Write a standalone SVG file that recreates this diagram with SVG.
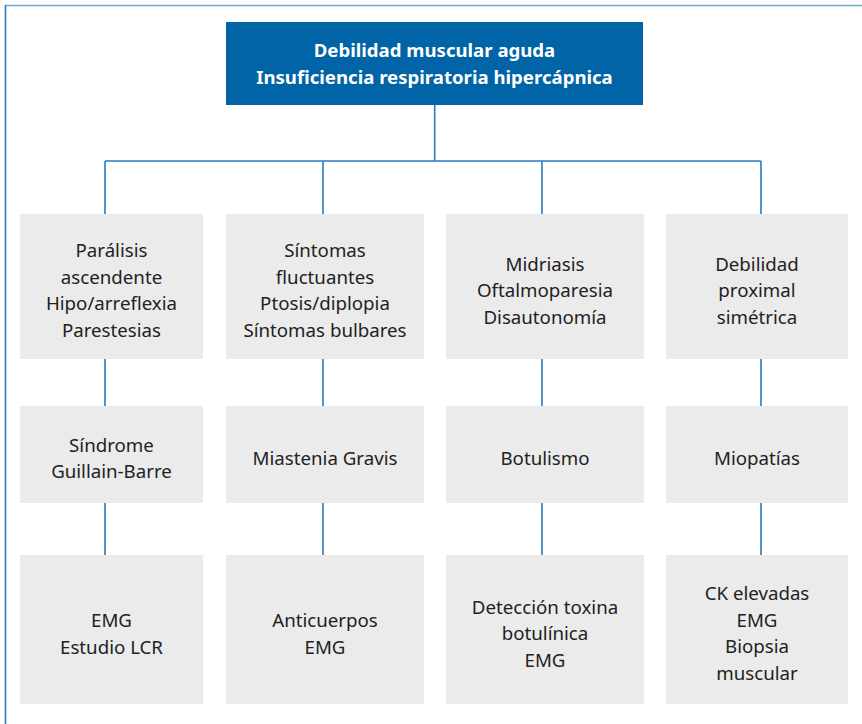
<svg xmlns="http://www.w3.org/2000/svg" width="862" height="724" viewBox="0 0 862 724">
<style>
.box{fill:#ebebeb}
.t{font-family:"Noto Sans","Liberation Sans",sans-serif;font-size:18.7px;fill:#222;text-anchor:middle}
.h{font-family:"Noto Sans","Liberation Sans",sans-serif;font-size:18.6px;font-weight:bold;fill:#fff;text-anchor:middle}
.c{stroke:#2a7bbf;stroke-width:1.6;fill:none}
</style>
<rect width="862" height="724" fill="#fff"/>
<g id="frame">
<line x1="5" y1="5.5" x2="862" y2="5.5" stroke="#7aa8cc" stroke-width="1.6"/>
<line x1="5.5" y1="5" x2="5.5" y2="724" stroke="#2a7bbf" stroke-width="1.6"/>
</g>
<g id="connectors">
<path class="c" d="M434.7 105V161M105 161H761M105 161V214M323 161V214M542 161V214M761 161V214"/>
<path class="c" d="M105 359V406M323 359V406M542 359V406M761 359V406"/>
<path class="c" d="M105 503V555M323 503V555M542 503V555M761 503V555"/>
</g>
<g id="root">
<rect x="226" y="22" width="417" height="83" fill="#0064a7"/>
<text class="h" x="434.5" y="57">Debilidad muscular aguda</text>
<text class="h" x="434.5" y="84">Insuficiencia respiratoria hipercápnica</text>
</g>
<g id="n11"><rect class="box" x="20" y="214" width="183" height="145"/>
<text class="t" x="111.5" y="256.5">Parálisis</text><text class="t" x="111.5" y="283.5">ascendente</text><text class="t" x="111.5" y="309.5">Hipo/arreflexia</text><text class="t" x="111.5" y="336.5">Parestesias</text></g>
<g id="n12"><rect class="box" x="226" y="214" width="198" height="145"/>
<text class="t" x="325" y="256.5">Síntomas</text><text class="t" x="325" y="283.5">fluctuantes</text><text class="t" x="325" y="309.5">Ptosis/diplopia</text><text class="t" x="325" y="336.5">Síntomas bulbares</text></g>
<g id="n13"><rect class="box" x="446" y="214" width="198" height="145"/>
<text class="t" x="545" y="270.5">Midriasis</text><text class="t" x="545" y="296.5">Oftalmoparesia</text><text class="t" x="545" y="323.5">Disautonomía</text></g>
<g id="n14"><rect class="box" x="666" y="214" width="182" height="145"/>
<text class="t" x="757" y="270.5">Debilidad</text><text class="t" x="757" y="296.5">proximal</text><text class="t" x="757" y="323.5">simétrica</text></g>
<g id="n21"><rect class="box" x="20" y="406" width="183" height="97"/>
<text class="t" x="111.5" y="451.5">Síndrome</text><text class="t" x="111.5" y="477.5">Guillain-Barre</text></g>
<g id="n22"><rect class="box" x="226" y="406" width="198" height="97"/>
<text class="t" x="325" y="464.5">Miastenia Gravis</text></g>
<g id="n23"><rect class="box" x="446" y="406" width="198" height="97"/>
<text class="t" x="545" y="464.5">Botulismo</text></g>
<g id="n24"><rect class="box" x="666" y="406" width="182" height="97"/>
<text class="t" x="757" y="464.5">Miopatías</text></g>
<g id="n31"><rect class="box" x="20" y="555" width="183" height="149"/>
<text class="t" x="111.5" y="626.5">EMG</text><text class="t" x="111.5" y="653.5">Estudio LCR</text></g>
<g id="n32"><rect class="box" x="226" y="555" width="198" height="149"/>
<text class="t" x="325" y="626.5">Anticuerpos</text><text class="t" x="325" y="653.5">EMG</text></g>
<g id="n33"><rect class="box" x="446" y="555" width="198" height="149"/>
<text class="t" x="545" y="613.5">Detección toxina</text><text class="t" x="545" y="639.5">botulínica</text><text class="t" x="545" y="666.5">EMG</text></g>
<g id="n34"><rect class="box" x="666" y="555" width="182" height="149"/>
<text class="t" x="757" y="599.5">CK elevadas</text><text class="t" x="757" y="626.5">EMG</text><text class="t" x="757" y="652.5">Biopsia</text><text class="t" x="757" y="679.5">muscular</text></g>
</svg>
